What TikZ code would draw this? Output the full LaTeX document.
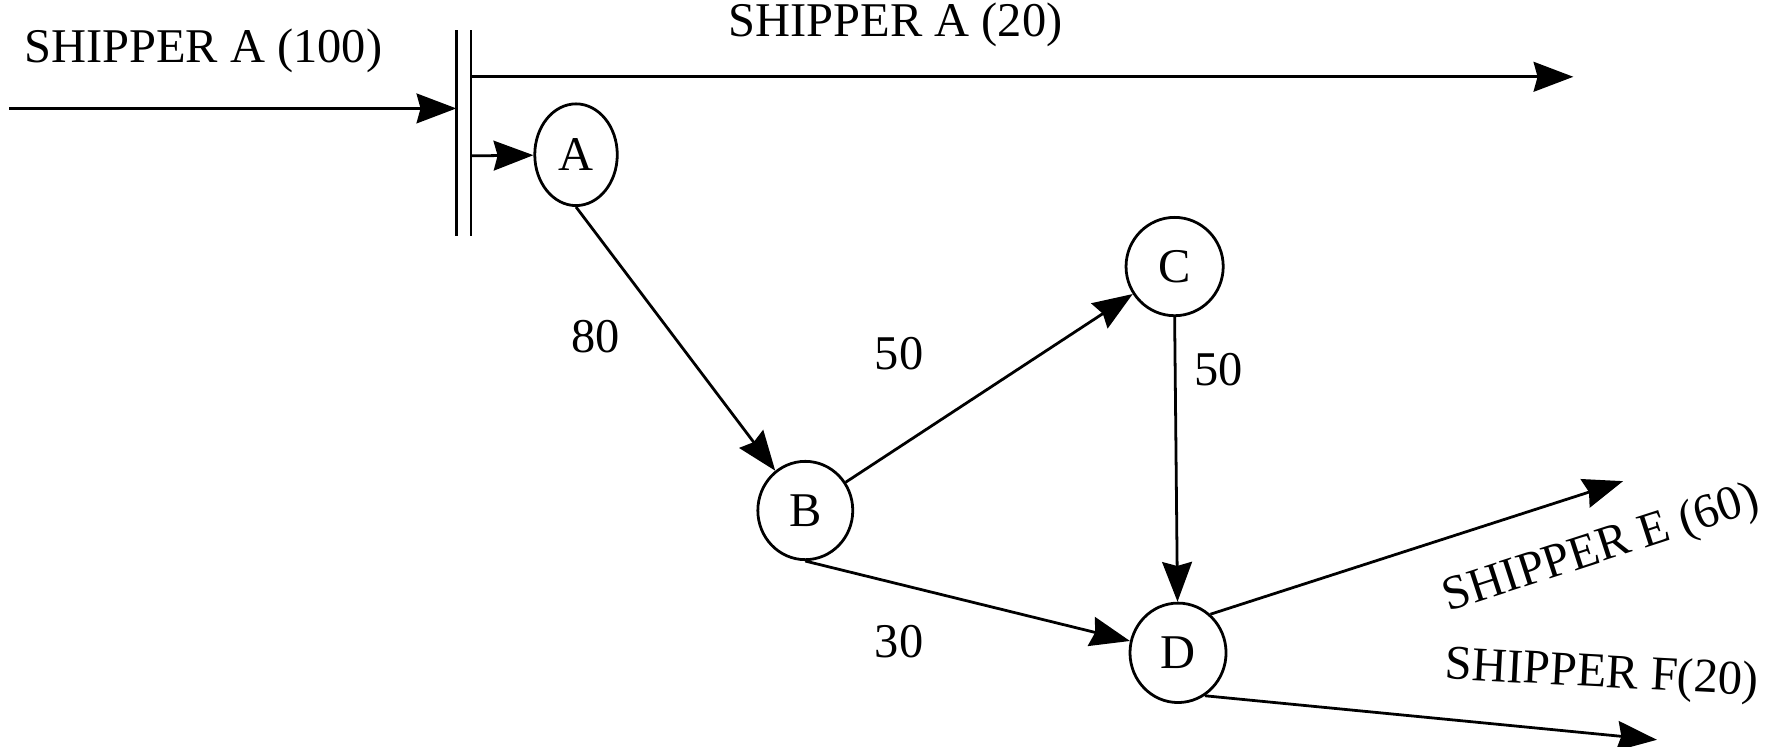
\documentclass[tikz,border=0pt]{standalone}
\usepackage{fontspec}
\setmainfont{Liberation Serif}
\usetikzlibrary{arrows.meta,shapes.geometric}
\begin{document}
\begin{tikzpicture}[x=0.01cm,y=-0.01cm,
  every node/.style={font=\fontsize{12.2}{14}\selectfont},
  stn/.style={draw,ellipse,line width=0.7pt,inner sep=0pt},
  flow/.style={line width=0.7pt,-{Stealth[length=10pt,width=7.5pt,inset=1pt]}},
  plain/.style={line width=0.7pt},
  lbl/.style={inner sep=0pt}]
\useasboundingbox (0,0) rectangle (1568,661);
% stations
\node[stn,minimum width=0.73cm,minimum height=0.90cm] (A) at (510,137) {A};
\node[stn,minimum width=0.84cm,minimum height=0.87cm] (B) at (713,452) {B};
\node[stn,minimum width=0.86cm,minimum height=0.87cm] (C) at (1040,236) {C};
\node[stn,minimum width=0.85cm,minimum height=0.88cm] (D) at (1043,578) {D};
% split bar
\coordinate (b1t) at (404,27); \coordinate (b1b) at (404,209);
\coordinate (b2t) at (417,27); \coordinate (b2b) at (417,209);
\draw[plain] (b1t) -- (b1b);
\draw[plain] (b2t) -- (b2b);
% end points
\coordinate (in) at (8,96);
\coordinate (inend) at (404,96);
\coordinate (top0) at (417,68);
\coordinate (top1) at (1393,68);
\coordinate (a0) at (417,138);
\coordinate (E) at (1437,426);
\coordinate (F) at (1467,655);
% connectors
\draw[flow] (a0) -- (A);
\draw[flow] (in) -- (inend);
\draw[flow] (top0) -- (top1);
\draw[flow] (A.south) -- (B);
\draw[flow] (B.35) -- (C);
\draw[flow] (B.south) -- (D);
\draw[flow] (C.south) -- (D);
\draw[flow] (D.50) -- (E);
\draw[flow] (D.-58) -- (F);
% labels
\node[lbl] (tin) at (180,45) {SHIPPER A (100)};
\node[lbl] (ttop) at (793,22) {SHIPPER A (20)};
\node[lbl] (l80) at (527,298) {80};
\node[lbl] (l50a) at (796,313) {50};
\node[lbl] (l50b) at (1079,327) {50};
\node[lbl] (l30) at (796,568) {30};
\node[lbl,rotate=18] (tE) at (1418,487) {SHIPPER E (60)};
\node[lbl,rotate=-3] (tF) at (1418,598) {SHIPPER F(20)};
\end{tikzpicture}
\end{document}
